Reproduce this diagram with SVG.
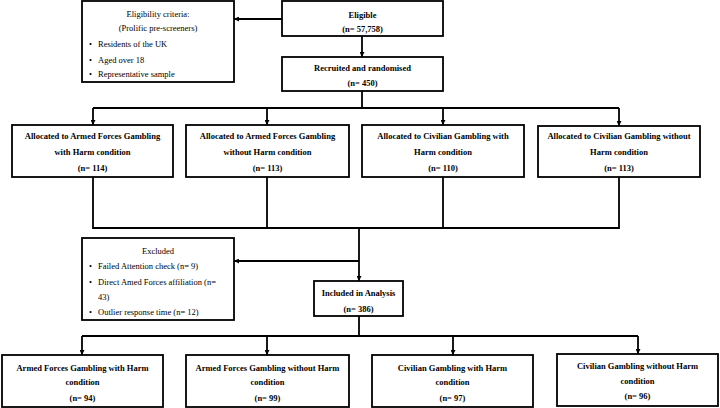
<svg xmlns="http://www.w3.org/2000/svg" width="720" height="408" viewBox="0 0 720 408">
<defs>
<style>
.box{fill:#fff;stroke:#000;stroke-width:1.8}
.ln{fill:none;stroke:#000;stroke-width:1.8}
.b{font-family:"Liberation Serif","Times New Roman",serif;font-weight:bold;font-size:8.5px;text-anchor:middle;fill:#000}
.r{font-family:"Liberation Serif","Times New Roman",serif;font-size:8.5px;fill:#000}
.rc{text-anchor:middle}
</style>
<marker id="ah" viewBox="0 0 10 10" refX="10" refY="5" markerWidth="5" markerHeight="5" markerUnits="userSpaceOnUse" orient="auto">
<path d="M0,0 L10,5 L0,10 Z" fill="#000"/>
</marker>
</defs>
<rect width="720" height="408" fill="#fff"/>
<g id="connectors">
<path class="ln" d="M282,19 H234" marker-end="url(#ah)"/>
<path class="ln" d="M362,36 V57" marker-end="url(#ah)"/>
<path class="ln" d="M362,91 V108 M93,108 H619"/>
<path class="ln" d="M93,108 V125" marker-end="url(#ah)"/>
<path class="ln" d="M267,108 V125" marker-end="url(#ah)"/>
<path class="ln" d="M443,108 V125" marker-end="url(#ah)"/>
<path class="ln" d="M619,108 V126" marker-end="url(#ah)"/>
<path class="ln" d="M93,177 V228 H619 V177 M267,177 V228 M443,177 V228"/>
<path class="ln" d="M359,228 V281" marker-end="url(#ah)"/>
<path class="ln" d="M359,261 H234" marker-end="url(#ah)"/>
<path class="ln" d="M359,316 V336 M82,336 H638"/>
<path class="ln" d="M82,336 V355" marker-end="url(#ah)"/>
<path class="ln" d="M267,336 V355" marker-end="url(#ah)"/>
<path class="ln" d="M453,336 V355" marker-end="url(#ah)"/>
<path class="ln" d="M638,336 V354" marker-end="url(#ah)"/>
</g>
<g id="eligibility">
<rect class="box" x="82" y="1" width="152" height="81"/>
<text class="r rc" x="158" y="17">Eligibility criteria:</text>
<text class="r rc" x="158" y="31">(Prolific pre-screeners)</text>
<text class="r" x="89" y="47">•</text><text class="r" x="98" y="47">Residents of the UK</text>
<text class="r" x="89" y="63">•</text><text class="r" x="98" y="63">Aged over 18</text>
<text class="r" x="89" y="77">•</text><text class="r" x="98" y="77">Representative sample</text>
</g>
<g id="eligible">
<rect class="box" x="282" y="1" width="161" height="35"/>
<text class="b" x="362.5" y="18">Eligible</text>
<text class="b" x="362.5" y="32">(n= 57,758)</text>
</g>
<g id="recruited">
<rect class="box" x="282" y="57" width="161" height="34"/>
<text class="b" x="362.5" y="71">Recruited and randomised</text>
<text class="b" x="362.5" y="86">(n= 450)</text>
</g>
<g id="alloc1">
<rect class="box" x="12" y="125" width="161" height="52"/>
<text class="b" x="92.5" y="139">Allocated to Armed Forces Gambling</text>
<text class="b" x="92.5" y="155">with Harm condition</text>
<text class="b" x="92.5" y="171">(n= 114)</text>
</g>
<g id="alloc2">
<rect class="box" x="186" y="125" width="163" height="52"/>
<text class="b" x="267.5" y="139">Allocated to Armed Forces Gambling</text>
<text class="b" x="267.5" y="155">without Harm condition</text>
<text class="b" x="267.5" y="171">(n= 113)</text>
</g>
<g id="alloc3">
<rect class="box" x="362" y="125" width="162" height="52"/>
<text class="b" x="443" y="139">Allocated to Civilian Gambling with</text>
<text class="b" x="443" y="155">Harm condition</text>
<text class="b" x="443" y="171">(n= 110)</text>
</g>
<g id="alloc4">
<rect class="box" x="538" y="126" width="162" height="51"/>
<text class="b" x="619" y="139">Allocated to Civilian Gambling without</text>
<text class="b" x="619" y="155">Harm condition</text>
<text class="b" x="619" y="171">(n= 113)</text>
</g>
<g id="excluded">
<rect class="box" x="82" y="238" width="152" height="82"/>
<text class="r rc" x="158" y="254">Excluded</text>
<text class="r" x="89" y="269">•</text><text class="r" x="98" y="269">Failed Attention check (n= 9)</text>
<text class="r" x="89" y="285">•</text><text class="r" x="98" y="285">Direct Amed Forces affiliation (n=</text>
<text class="r" x="98" y="300">43)</text>
<text class="r" x="89" y="315">•</text><text class="r" x="98" y="315">Outlier response time (n= 12)</text>
</g>
<g id="included">
<rect class="box" x="314" y="281" width="89" height="35"/>
<text class="b" x="358.5" y="296">Included in Analysis</text>
<text class="b" x="358.5" y="312">(n= 386)</text>
</g>
<g id="final1">
<rect class="box" x="2" y="355" width="161" height="52"/>
<text class="b" x="82.5" y="371">Armed Forces Gambling with Harm</text>
<text class="b" x="82.5" y="385">condition</text>
<text class="b" x="82.5" y="401">(n= 94)</text>
</g>
<g id="final2">
<rect class="box" x="186" y="355" width="163" height="52"/>
<text class="b" x="267.5" y="371">Armed Forces Gambling without Harm</text>
<text class="b" x="267.5" y="385">condition</text>
<text class="b" x="267.5" y="401">(n= 99)</text>
</g>
<g id="final3">
<rect class="box" x="372" y="355" width="161" height="52"/>
<text class="b" x="452.5" y="371">Civilian Gambling with Harm</text>
<text class="b" x="452.5" y="385">condition</text>
<text class="b" x="452.5" y="401">(n= 97)</text>
</g>
<g id="final4">
<rect class="box" x="557" y="354" width="161" height="52"/>
<text class="b" x="637.5" y="369">Civilian Gambling without Harm</text>
<text class="b" x="637.5" y="384">condition</text>
<text class="b" x="637.5" y="399">(n= 96)</text>
</g>
</svg>
